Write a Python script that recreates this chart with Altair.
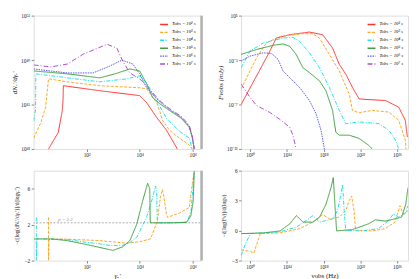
import altair as alt
import pandas as pd

SERIES = ["Tobs = 10² s", "Tobs = 10³ s", "Tobs = 10⁴ s",
          "Tobs = 10⁵ s", "Tobs = 10⁶ s", "Tobs = 10⁷ s"]
COLORS = ["#ff3030", "#ffa726", "#1ee3ea", "#3d9e3d", "#5858f0", "#b04ec8"]
DASHES = [[1, 0], [3, 1.5], [4, 1.5, 1, 1.5], [1, 0], [1.5, 1], [5, 2, 1, 2]]

# ---- top-left: electron spectrum (log10 gamma, log10 dN/dgamma)
tl_red_g = [0.56, 0.93, 1.08, 1.11, 1.12, 2.5, 4.0, 4.26, 4.64, 5.01, 5.38, 5.45]
tl_red_n = [41.0, 42.5, 44.47, 45.5, 46.69, 46.24, 45.8, 45.18, 43.84, 42.69, 41.18, 40.8]
tl_ora_g = [0.0, 0.26, 0.45, 0.52, 0.56, 1.27, 2.5, 4.0, 4.26, 4.64, 4.75, 4.86, 5.12, 5.5, 5.87, 5.98]
tl_ora_n = [41.98, 43.31, 44.73, 46.42, 47.31, 47.04, 46.69, 46.51, 46.42, 45.18, 44.47, 43.58, 42.69, 41.98, 41.36, 41.0]
tl_cya_g = [0.0, 0.07, 0.08, 1.27, 2.5, 3.51, 4.0, 4.26, 4.64, 5.01, 5.5, 5.87, 5.98]
tl_cya_n = [43.5, 44.5, 47.76, 47.4, 47.04, 47.31, 47.58, 46.96, 45.36, 43.76, 42.6, 41.98, 41.0]
tl_gre_g = [0.0, 1.27, 2.5, 3.07, 3.63, 4.0, 4.26, 4.49, 4.75, 5.12, 5.57, 5.87, 5.98, 6.06]
tl_gre_n = [48.02, 47.76, 47.4, 47.76, 48.2, 48.02, 46.87, 45.62, 45.09, 44.47, 43.76, 42.96, 42.07, 41.0]
tl_blu_g = [0.0, 1.27, 2.24, 2.88, 3.33, 3.74, 4.0, 4.26, 4.75, 5.12, 5.57, 5.87, 5.98, 6.06]
tl_blu_n = [48.2, 47.84, 47.84, 48.47, 49.0, 48.64, 47.76, 46.51, 45.27, 44.56, 43.84, 43.04, 42.16, 41.0]
tl_pur_g = [0.0, 0.64, 1.27, 1.87, 2.77, 3.14, 3.36, 3.63, 4.0, 4.26, 4.75, 5.12, 5.57, 5.87, 5.98, 6.06]
tl_pur_n = [48.56, 48.38, 48.64, 49.53, 50.42, 50.07, 48.91, 47.84, 47.31, 46.69, 45.36, 44.64, 43.93, 43.13, 42.24, 41.0]

# ---- top-right: flux (log10 nu, log10 F)
tr_red_v = [9.0, 11.95, 12.84, 14.29, 16.45, 17.89, 18.97, 19.7, 20.41, 21.14, 21.86, 22.94, 24.74, 26.18, 26.9, 27.13]
tr_red_f = [-7.0, -2.49, -1.02, -0.72, -0.48, -0.72, -1.91, -3.38, -4.27, -5.46, -6.49, -6.56, -6.64, -7.24, -8.42, -9.93]
tr_ora_v = [9.0, 10.68, 11.76, 13.21, 15.73, 16.81, 17.54, 18.62, 19.7, 20.78, 21.14, 21.86, 23.3, 25.1, 26.18, 26.9, 26.97]
tr_ora_f = [-5.6, -2.8, -1.46, -0.87, -0.63, -0.63, -1.02, -2.49, -3.98, -6.05, -7.53, -7.74, -7.53, -7.68, -8.42, -10.2, -11.0]
tr_cya_v = [9.0, 9.97, 11.41, 13.57, 14.65, 15.37, 16.45, 17.54, 18.62, 19.7, 20.41, 21.86, 24.02, 25.1, 25.82, 26.18]
tr_cya_f = [-3.68, -2.2, -1.46, -1.02, -0.96, -1.31, -2.35, -3.68, -5.46, -7.53, -8.72, -8.57, -8.72, -9.31, -10.2, -11.0]
tr_gre_v = [9.0, 10.68, 12.49, 13.57, 14.29, 15.0, 15.73, 16.45, 17.54, 18.25, 18.97, 19.33, 19.7, 20.78, 21.86, 22.86, 23.3]
tr_gre_f = [-2.49, -2.05, -1.67, -1.55, -1.76, -2.49, -3.68, -4.13, -4.87, -5.76, -7.53, -9.49, -9.76, -9.76, -10.05, -10.64, -11.0]
tr_blu_v = [9.0, 9.97, 11.41, 12.3, 13.03, 13.57, 14.29, 15.37, 16.45, 17.17, 17.71, 18.08]
tr_blu_f = [-3.09, -2.64, -2.35, -2.4, -2.94, -3.98, -4.57, -5.46, -6.64, -7.83, -9.31, -11.0]
tr_pur_v = [9.0, 9.97, 10.68, 12.13, 13.21, 14.29, 14.65, 15.0]
tr_pur_f = [-5.16, -6.35, -7.09, -7.71, -8.33, -9.04, -9.76, -11.0]

# ---- bottom-left: spectral slope of electrons (log10 gamma, slope)
bl_ora_g = [0.56, 0.56, 0.58, 1.27, 2.5, 3.51, 4.0, 4.41, 4.67, 4.78, 4.86, 4.9, 5.01, 5.05, 5.5, 5.87, 5.98, 6.06]
bl_ora_s = [2.8, -2.0, 0.41, 0.38, 0.22, -0.06, 0.1, 0.41, 2.4, 5.0, 5.9, 5.3, 3.2, 2.8, 3.3, 3.9, 6.4, 8.0]
bl_cya_g = [0.1, 0.1, 0.12, 1.27, 1.87, 2.5, 2.88, 3.36, 3.63, 3.89, 4.26, 4.49, 4.6, 4.64, 4.67, 5.31, 5.8, 5.94, 6.06]
bl_cya_s = [2.8, -2.0, 0.41, 0.35, 0.08, -0.14, -0.32, -0.3, 0.0, 0.6, 2.8, 5.0, 6.3, 5.5, 2.2, 2.2, 2.3, 3.5, 8.0]
bl_gre_g = [0.0, 0.64, 1.27, 1.87, 2.39, 2.99, 3.36, 3.63, 3.89, 4.11, 4.3, 4.38, 4.4, 5.12, 5.76, 5.93, 6.02, 6.06]
bl_gre_s = [0.41, 0.41, 0.22, -0.14, -0.47, -0.87, -0.47, 0.22, 2.05, 4.6, 6.6, 6.0, 2.2, 2.2, 2.24, 2.96, 4.6, 7.9]

# ---- bottom-right: spectral slope of flux (log10 nu, slope)
br_ora_v = [9.0, 10.03, 10.38, 10.74, 11.1, 13.25, 15.39, 16.83, 17.9, 18.62, 19.7, 20.41, 20.77, 21.05, 21.31, 21.48, 23.27, 24.71, 25.78, 26.32, 26.68, 27.2]
br_ora_s = [-1.93, -2.1, -2.26, -1.28, -0.3, -0.23, 0.2, 0.85, 1.6, 1.18, 1.35, 2.0, 3.0, 3.47, 2.0, 0.03, -0.03, 0.2, 0.85, 2.5, 1.67, 2.0]
br_cya_v = [9.0, 9.49, 10.03, 11.45, 13.25, 15.03, 16.11, 16.83, 17.55, 18.26, 18.98, 19.52, 19.88, 20.06, 20.24, 20.41, 22.2, 23.99, 25.06, 25.6, 26.14, 26.85, 27.2]
br_cya_s = [-2.5, -1.28, -0.3, -0.23, -0.13, 0.36, 1.01, 1.5, 0.85, 1.0, 1.18, 2.0, 3.64, 4.62, 2.0, 0.03, -0.03, 0.2, 1.0, 1.67, 1.35, 1.67, 2.5]
br_gre_v = [9.0, 11.45, 13.25, 14.32, 15.03, 15.75, 16.83, 17.55, 18.26, 18.8, 19.05, 19.27, 19.41, 21.13, 22.92, 23.63, 24.71, 25.78, 26.5, 26.94, 27.2]
br_gre_s = [-0.3, -0.23, -0.03, 0.69, 1.5, 0.85, 0.85, 1.35, 2.65, 4.3, 5.3, 2.0, -0.03, 0.1, 0.69, 1.08, 0.95, 1.18, 1.35, 2.6, 4.3]

P_INDEX = 2.2

FONT = "Liberation Serif"
SUP = str.maketrans("0123456789-", "⁰¹²³⁴⁵⁶⁷⁸⁹⁻")


def pow_expr(exps):
    s = ""
    for e in exps:
        s += f"abs(log(datum.value)/LN10 - ({e})) < 0.01 ? '10{str(e).translate(SUP)}' : "
    return s + "''"


def frame(series_list, logx=True, logy=True):
    rows = []
    for name, xs, ys in series_list:
        for i, (a, b) in enumerate(zip(xs, ys)):
            rows.append({"series": name, "i": i,
                         "x": 10 ** a if logx else a,
                         "y": 10 ** b if logy else b})
    return pd.DataFrame(rows)


color_scale = alt.Scale(domain=SERIES, range=COLORS)
dash_scale = alt.Scale(domain=SERIES, range=DASHES)

AX = dict(labelFont=FONT, titleFont=FONT, labelFontSize=5.5,
          labelColor="#222", titleColor="#222", tickColor="#888", tickSize=2.5,
          domain=False, grid=False, titleFontWeight="normal", labelPadding=1.5)


def legend():
    return alt.Legend(orient="top-right", offset=4, title=None, symbolType="stroke",
                      symbolSize=64, symbolStrokeWidth=1.4, labelFont=FONT,
                      labelFontSize=4.8, labelFontStyle="italic", rowPadding=0,
                      labelOffset=3, padding=0)


def lines(df, xs, ys, xa, ya, leg):
    return alt.Chart(df).mark_line(strokeWidth=1, clip=True).encode(
        x=alt.X("x:Q", scale=xs, axis=xa),
        y=alt.Y("y:Q", scale=ys, axis=ya),
        color=alt.Color("series:N", scale=color_scale, legend=leg),
        strokeDash=alt.StrokeDash("series:N", scale=dash_scale, legend=leg),
        order="i:Q",
    )


def side_bar(w, h):
    return alt.Chart(pd.DataFrame({"a": [0]})).mark_rule(color="#b0b0b0", strokeWidth=2.5).encode(
        x=alt.value(w + 1), y=alt.value(0), y2=alt.value(h))


W = 169
HT = 135
HB = 91

# scales
g_scale = alt.Scale(type="log", domain=[1, 10 ** 6.3], nice=False)
nu_scale = alt.Scale(type="log", domain=[10 ** 9.0, 10 ** 27.2], nice=False)
n_scale = alt.Scale(type="log", domain=[1e41, 1e53], nice=False)
f_scale = alt.Scale(type="log", domain=[1e-11, 1e1], nice=False)
s1_scale = alt.Scale(domain=[-2, 8], nice=False, zero=False)
s2_scale = alt.Scale(domain=[-3, 6], nice=False, zero=False)

minus_expr = "datum.value < 0 ? '−' + abs(datum.value) : '' + datum.value"

# top-left
df_tl = frame([(SERIES[0], tl_red_g, tl_red_n), (SERIES[1], tl_ora_g, tl_ora_n),
               (SERIES[2], tl_cya_g, tl_cya_n), (SERIES[3], tl_gre_g, tl_gre_n),
               (SERIES[4], tl_blu_g, tl_blu_n), (SERIES[5], tl_pur_g, tl_pur_n)])
tl_x = alt.Axis(values=[1e2, 1e4, 1e6], labelExpr=pow_expr([2, 4, 6]), title=None, **AX)
tl_y = alt.Axis(values=[1e41, 1e45, 1e49, 1e53], labelExpr=pow_expr([41, 45, 49, 53]),
                title="dNₑ′/dγₑ′", titlePadding=3, titleFontStyle="italic", titleFontSize=7, **AX)
tl = alt.layer(lines(df_tl, g_scale, n_scale, tl_x, tl_y, legend()), side_bar(W, HT)).properties(width=W, height=HT)

# top-right
df_tr = frame([(SERIES[0], tr_red_v, tr_red_f), (SERIES[1], tr_ora_v, tr_ora_f),
               (SERIES[2], tr_cya_v, tr_cya_f), (SERIES[3], tr_gre_v, tr_gre_f),
               (SERIES[4], tr_blu_v, tr_blu_f), (SERIES[5], tr_pur_v, tr_pur_f)])
tr_x = alt.Axis(values=[1e10, 1e14, 1e18, 1e22, 1e26], labelExpr=pow_expr([10, 14, 18, 22, 26]), title=None, **AX)
tr_y = alt.Axis(values=[1e-11, 1e-7, 1e-3, 1e1], labelExpr=pow_expr([-11, -7, -3, 1]),
                title="Fνobs (mJy)", titlePadding=3, titleFontStyle="italic", titleFontSize=7, **AX)
tr = lines(df_tr, nu_scale, f_scale, tr_x, tr_y, legend()).properties(width=W, height=HT)

# bottom-left
df_bl = frame([(SERIES[1], bl_ora_g, bl_ora_s), (SERIES[2], bl_cya_g, bl_cya_s),
               (SERIES[3], bl_gre_g, bl_gre_s)], logy=False)
bl_x = alt.Axis(values=[1e2, 1e4, 1e6], labelExpr=pow_expr([2, 4, 6]), title="γₑ′",
                titleFontStyle="italic", titlePadding=2, titleFontSize=7, **AX)
bl_y = alt.Axis(values=[-2, 2, 6], labelExpr=minus_expr, title="−d[log(dNₑ′/dγₑ′)]/d(logγₑ′)",
                titlePadding=5, titleFontSize=5.5, **AX)
p_rule = alt.Chart(pd.DataFrame({"y": [P_INDEX]})).mark_rule(
    color="#999999", strokeWidth=0.8, strokeDash=[2, 1.5]).encode(
    y=alt.Y("y:Q", scale=s1_scale, axis=bl_y))
p_text = alt.Chart(pd.DataFrame({"x": [10 ** 1.2], "y": [2.62], "t": ["p = 2.2"]})).mark_text(
    font=FONT, fontSize=5, fontStyle="italic", color="#888888").encode(
    x=alt.X("x:Q", scale=g_scale, axis=bl_x), y=alt.Y("y:Q", scale=s1_scale, axis=bl_y), text="t:N")
bl = alt.layer(p_rule, lines(df_bl, g_scale, s1_scale, bl_x, bl_y, None), p_text,
               side_bar(W, HB)).properties(width=W, height=HB)

# bottom-right
df_br = frame([(SERIES[1], br_ora_v, br_ora_s), (SERIES[2], br_cya_v, br_cya_s),
               (SERIES[3], br_gre_v, br_gre_s)], logy=False)
br_x = alt.Axis(values=[1e10, 1e14, 1e18, 1e22, 1e26], labelExpr=pow_expr([10, 14, 18, 22, 26]),
                title="νobs (Hz)", titlePadding=2, titleFontSize=7, **AX)
br_y = alt.Axis(values=[-3, 0, 3, 6], labelExpr=minus_expr, title="−d[log(Fν)]/d(logν)",
                titlePadding=5, titleFontSize=5.5, **AX)
br = lines(df_br, nu_scale, s2_scale, br_x, br_y, None).properties(width=W, height=HB)

chart = alt.concat(tl, tr, bl, br, columns=2, spacing={"row": 9, "column": 12}).resolve_scale(
    color="independent", strokeDash="independent"
).resolve_legend(
    color="independent", strokeDash="independent"
).properties(
    padding={"left": 2, "top": 3, "right": 2, "bottom": 2}
).configure_view(stroke="#888888", strokeWidth=1).configure(background="white")

chart.save("out.html", embed_options={"renderer": "svg", "actions": False})
